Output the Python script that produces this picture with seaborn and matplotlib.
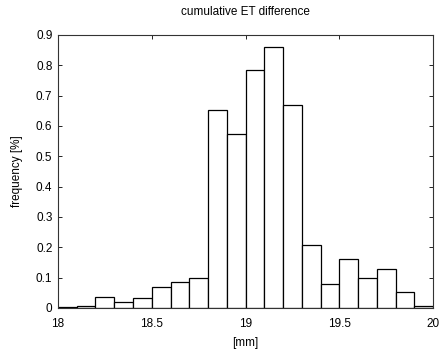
import numpy as np
import matplotlib
matplotlib.use("Agg")
import matplotlib.pyplot as plt
import seaborn as sns

# bin left edges [mm] and frequency [%]
bin_left = [18.0, 18.1, 18.2, 18.3, 18.4, 18.5, 18.6, 18.7, 18.8, 18.9,
            19.0, 19.1, 19.2, 19.3, 19.4, 19.5, 19.6, 19.7, 19.8, 19.9]
frequency = [0.004, 0.008, 0.037, 0.018, 0.033, 0.070, 0.085, 0.100, 0.651, 0.573,
             0.784, 0.861, 0.669, 0.209, 0.080, 0.162, 0.100, 0.129, 0.052, 0.008]
x_ticks = [18, 18.5, 19, 19.5, 20]
x_tick_labels = ["18", "18.5", "19", "19.5", "20"]
y_ticks = [0, 0.1, 0.2, 0.3, 0.4, 0.5, 0.6, 0.7, 0.8, 0.9]
y_tick_labels = ["0", "0.1", "0.2", "0.3", "0.4", "0.5", "0.6", "0.7", "0.8", "0.9"]

sns.set_style("white")
plt.rcParams['font.family'] = ['Liberation Sans', 'DejaVu Sans']
plt.rcParams['text.color'] = 'black'
plt.rcParams['axes.labelcolor'] = 'black'
plt.rcParams['xtick.color'] = 'black'
plt.rcParams['ytick.color'] = 'black'

fig = plt.figure(figsize=(4.41, 3.56), dpi=100)
ax = fig.add_axes([0.1315, 0.135, 0.8505, 0.767])

centers = np.array(bin_left) + 0.05
sns.histplot(x=centers, weights=frequency, binwidth=0.1, binrange=(18, 20), ax=ax,
             color="white", edgecolor="black", linewidth=0.9, alpha=1)

ax.set_xlim(18, 20)
ax.set_ylim(0, 0.9)
ax.set_xticks(x_ticks)
ax.set_xticklabels(x_tick_labels)
ax.set_yticks(y_ticks)
ax.set_yticklabels(y_tick_labels)
ax.tick_params(direction="in", length=3, width=0.6, labelsize=8.5,
               top=True, right=True, bottom=True, left=True)
ax.tick_params(axis="x", pad=7)
ax.tick_params(axis="y", pad=4)
for s in ax.spines.values():
    s.set_visible(True)
    s.set_color("#333333")
    s.set_linewidth(0.8)

ax.set_title("cumulative ET difference", fontsize=8.5, pad=14)
ax.set_xlabel("[mm]", fontsize=8.5, labelpad=5)
ax.set_ylabel("frequency [%]", fontsize=8.5, labelpad=9)

fig.savefig("out.png", dpi=100)
